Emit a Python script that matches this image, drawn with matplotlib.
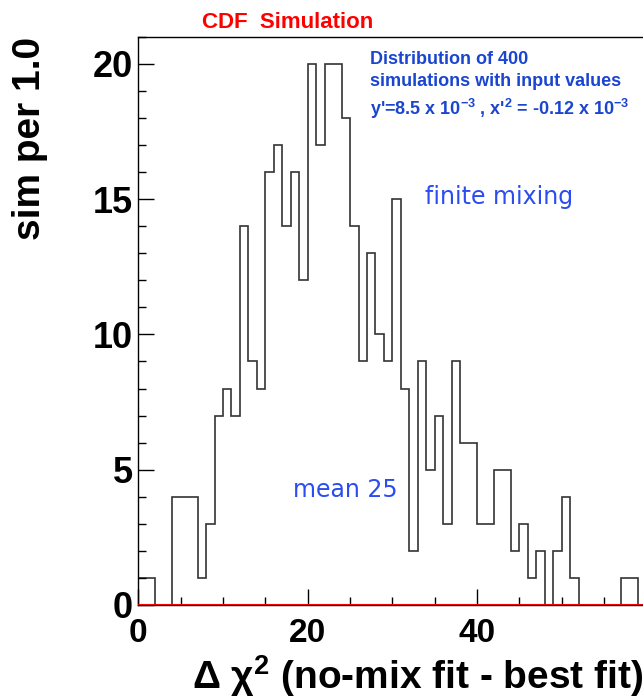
import numpy as np
import matplotlib
matplotlib.use("Agg")
from matplotlib import pyplot as plt
from matplotlib.ticker import MultipleLocator, FixedLocator

# histogram of delta chi2 from 400 simulations, 1 unit bins from 0 to 60
bin_edges = np.arange(0, 61, 1)
counts = [1, 1, 0, 0, 4, 4, 4, 1, 3, 7,
          8, 7, 14, 9, 8, 16, 17, 14, 16, 12,
          20, 17, 20, 20, 18, 14, 9, 13, 10, 9,
          15, 8, 2, 9, 5, 7, 3, 9, 6, 6,
          3, 3, 5, 5, 2, 3, 1, 2, 0, 2,
          4, 1, 0, 0, 0, 0, 0, 1, 1, 0]
x_labeled = [0, 20, 40]   # 60 sits on the cropped edge, no label

title = "CDF  Simulation"
ylabel = "sim per 1.0"
xlabel = "Δ χ$^{\\mathbf{2}}$ (no-mix fit - best fit)"
info_lines = ["Distribution of 400",
              "simulations with input values",
              "y'=8.5 x 10$^{\\mathbf{-3}}$ , x'$^{\\mathbf{2}}$ = -0.12 x 10$^{\\mathbf{-3}}$"]

plt.rcParams['font.family'] = ['Liberation Sans', 'DejaVu Sans']
plt.rcParams['mathtext.fontset'] = 'custom'
plt.rcParams['mathtext.rm'] = 'Liberation Sans'
plt.rcParams['mathtext.bf'] = 'Liberation Sans:bold'

W, H = 643, 699
fig = plt.figure(figsize=(W / 100, H / 100), dpi=100)
# axes extends a little past the right edge (picture is cropped there)
x0, x1, yb, yt = 138.3, 646.5, 605, 36.7
ax = fig.add_axes([x0 / W, (H - yb) / H, (x1 - x0) / W, (yb - yt) / H])

ax.stairs(counts, bin_edges, color='#333333', lw=1.2)
ax.axhline(0, color='red', lw=1.5, zorder=3)

ax.set_xlim(0, 60)
ax.set_ylim(0, 21)
ax.xaxis.set_major_locator(FixedLocator(x_labeled))
ax.xaxis.set_minor_locator(MultipleLocator(5))
ax.yaxis.set_major_locator(MultipleLocator(5))
ax.yaxis.set_minor_locator(MultipleLocator(1))
ax.tick_params(which='both', direction='in', width=1, color='black')
ax.tick_params(which='major', length=11.5)
ax.tick_params(which='minor', length=6)
ax.tick_params(axis='y', pad=4)
ax.tick_params(axis='x', pad=9)
for lab in ax.get_xticklabels():
    lab.set_fontsize(24)
    lab.set_fontweight('bold')
for lab in ax.get_yticklabels():
    lab.set_fontsize(26)
    lab.set_fontweight('bold')
for s in ax.spines.values():
    s.set_linewidth(1)

fig.text(288 / W, (H - 28) / H, title, color='red', fontsize=16,
         fontweight='bold', ha='center', va='baseline')
fig.text(30 / W, (H - 36.7) / H, ylabel, rotation=90, fontsize=28,
         fontweight='bold', ha='center', va='top')
fig.text(643 / W, (H - 689) / H, xlabel, fontsize=28, fontweight='bold',
         ha='right', va='baseline')

ys = [59, 82, 109]
for txt, yy in zip(info_lines, ys):
    fig.text(370 / W, (H - yy) / H, txt, color='#1a45d0', fontsize=13,
             fontweight='bold', ha='left', va='center')

fig.text(425 / W, (H - 197) / H, "finite mixing", color='#2a4cf0',
         fontsize=17, ha='left', va='center', family='DejaVu Sans')
fig.text(293 / W, (H - 490) / H, "mean 25", color='#2a4cf0',
         fontsize=17, ha='left', va='center', family='DejaVu Sans')

fig.savefig('out.png', dpi=100)
